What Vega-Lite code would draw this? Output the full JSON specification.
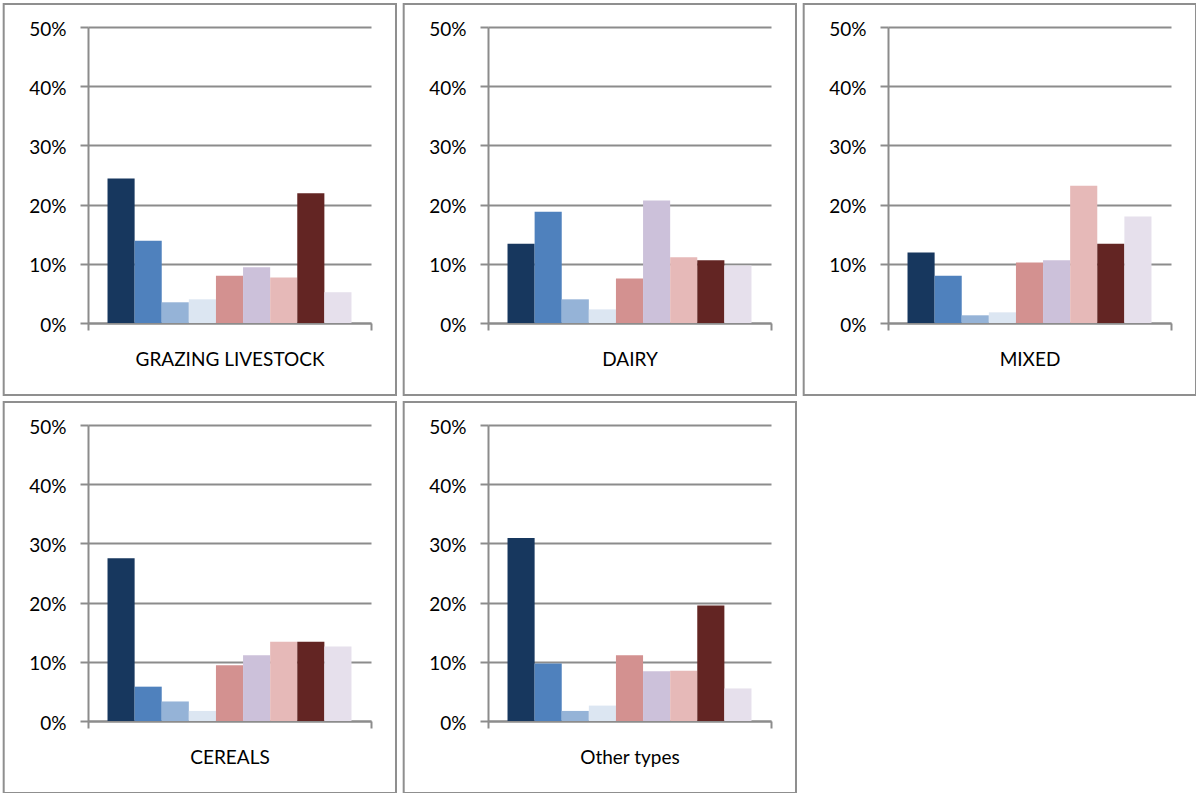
{
  "$schema": "https://vega.github.io/schema/vega-lite/v6.json",
  "padding": {"left": 2, "top": 2, "right": 0, "bottom": 0},
  "background": "white",
  "data": {
    "values": [
      {"type": "GRAZING LIVESTOCK", "series": "Series 1", "value": 0.244},
      {"type": "GRAZING LIVESTOCK", "series": "Series 2", "value": 0.139},
      {"type": "GRAZING LIVESTOCK", "series": "Series 3", "value": 0.035},
      {"type": "GRAZING LIVESTOCK", "series": "Series 4", "value": 0.040},
      {"type": "GRAZING LIVESTOCK", "series": "Series 5", "value": 0.080},
      {"type": "GRAZING LIVESTOCK", "series": "Series 6", "value": 0.094},
      {"type": "GRAZING LIVESTOCK", "series": "Series 7", "value": 0.077},
      {"type": "GRAZING LIVESTOCK", "series": "Series 8", "value": 0.219},
      {"type": "GRAZING LIVESTOCK", "series": "Series 9", "value": 0.052},
      {"type": "DAIRY", "series": "Series 1", "value": 0.134},
      {"type": "DAIRY", "series": "Series 2", "value": 0.188},
      {"type": "DAIRY", "series": "Series 3", "value": 0.040},
      {"type": "DAIRY", "series": "Series 4", "value": 0.023},
      {"type": "DAIRY", "series": "Series 5", "value": 0.075},
      {"type": "DAIRY", "series": "Series 6", "value": 0.207},
      {"type": "DAIRY", "series": "Series 7", "value": 0.111},
      {"type": "DAIRY", "series": "Series 8", "value": 0.106},
      {"type": "DAIRY", "series": "Series 9", "value": 0.097},
      {"type": "MIXED", "series": "Series 1", "value": 0.119},
      {"type": "MIXED", "series": "Series 2", "value": 0.080},
      {"type": "MIXED", "series": "Series 3", "value": 0.013},
      {"type": "MIXED", "series": "Series 4", "value": 0.018},
      {"type": "MIXED", "series": "Series 5", "value": 0.102},
      {"type": "MIXED", "series": "Series 6", "value": 0.106},
      {"type": "MIXED", "series": "Series 7", "value": 0.232},
      {"type": "MIXED", "series": "Series 8", "value": 0.134},
      {"type": "MIXED", "series": "Series 9", "value": 0.180},
      {"type": "CEREALS", "series": "Series 1", "value": 0.275},
      {"type": "CEREALS", "series": "Series 2", "value": 0.058},
      {"type": "CEREALS", "series": "Series 3", "value": 0.033},
      {"type": "CEREALS", "series": "Series 4", "value": 0.017},
      {"type": "CEREALS", "series": "Series 5", "value": 0.094},
      {"type": "CEREALS", "series": "Series 6", "value": 0.111},
      {"type": "CEREALS", "series": "Series 7", "value": 0.134},
      {"type": "CEREALS", "series": "Series 8", "value": 0.134},
      {"type": "CEREALS", "series": "Series 9", "value": 0.126},
      {"type": "Other types", "series": "Series 1", "value": 0.309},
      {"type": "Other types", "series": "Series 2", "value": 0.097},
      {"type": "Other types", "series": "Series 3", "value": 0.017},
      {"type": "Other types", "series": "Series 4", "value": 0.026},
      {"type": "Other types", "series": "Series 5", "value": 0.111},
      {"type": "Other types", "series": "Series 6", "value": 0.084},
      {"type": "Other types", "series": "Series 7", "value": 0.085},
      {"type": "Other types", "series": "Series 8", "value": 0.195},
      {"type": "Other types", "series": "Series 9", "value": 0.055}
    ]
  },
  "columns": 3,
  "spacing": {"row": 102, "column": 117},
  "bounds": "flush",
  "resolve": {
    "scale": {"x": "independent", "xOffset": "independent", "y": "independent"},
    "axis": {"x": "independent", "y": "independent"}
  },
  "concat": [
    {
      "width": 283, "height": 296,
      "transform": [{"filter": "datum.type == 'GRAZING LIVESTOCK'"}],
      "layer": [
        {
          "mark": {"type": "bar"},
          "encoding": {
            "x": {"field": "type", "type": "nominal", "title": null, "scale": {"type": "band", "paddingInner": 0, "paddingOuter": 0}},
            "xOffset": {"field": "series", "type": "nominal", "scale": {"type": "band", "paddingInner": 0, "paddingOuter": 0.72}},
            "y": {"field": "value", "type": "quantitative", "stack": null, "title": null, "scale": {"domain": [0, 0.5]}, "axis": {"values": [0, 0.1, 0.2, 0.3, 0.4, 0.5], "format": ".0%"}},
            "color": {"field": "series", "type": "nominal", "legend": null, "scale": {"domain": ["Series 1", "Series 2", "Series 3", "Series 4", "Series 5", "Series 6", "Series 7", "Series 8", "Series 9"], "range": ["#17375E", "#4F81BD", "#95B3D7", "#DCE6F2", "#D39190", "#CCC1DA", "#E6B9B8", "#632523", "#E6E0EC"]}}
          }
        },
        {
          "transform": [{"filter": "datum.series == 'Series 1'"}],
          "mark": {"type": "rect", "filled": false, "stroke": "#8f8f8f", "strokeWidth": 2},
          "encoding": {
            "x": {"field": "type", "type": "nominal", "title": null, "bandPosition": -0.2979, "scale": {"type": "band", "paddingInner": 0, "paddingOuter": 0}},
            "x2": {"field": "type", "bandPosition": 1.0883},
            "y": {"datum": 0.5389, "type": "quantitative", "title": null, "scale": {"domain": [0, 0.5]}},
            "y2": {"datum": -0.1216}
          }
        }
      ]
    },
    {
      "width": 283, "height": 296,
      "transform": [{"filter": "datum.type == 'DAIRY'"}],
      "layer": [
        {
          "mark": {"type": "bar"},
          "encoding": {
            "x": {"field": "type", "type": "nominal", "title": null, "scale": {"type": "band", "paddingInner": 0, "paddingOuter": 0}},
            "xOffset": {"field": "series", "type": "nominal", "scale": {"type": "band", "paddingInner": 0, "paddingOuter": 0.72}},
            "y": {"field": "value", "type": "quantitative", "stack": null, "title": null, "scale": {"domain": [0, 0.5]}, "axis": {"values": [0, 0.1, 0.2, 0.3, 0.4, 0.5], "format": ".0%"}},
            "color": {"field": "series", "type": "nominal", "legend": null, "scale": {"domain": ["Series 1", "Series 2", "Series 3", "Series 4", "Series 5", "Series 6", "Series 7", "Series 8", "Series 9"], "range": ["#17375E", "#4F81BD", "#95B3D7", "#DCE6F2", "#D39190", "#CCC1DA", "#E6B9B8", "#632523", "#E6E0EC"]}}
          }
        },
        {
          "transform": [{"filter": "datum.series == 'Series 1'"}],
          "mark": {"type": "rect", "filled": false, "stroke": "#8f8f8f", "strokeWidth": 2},
          "encoding": {
            "x": {"field": "type", "type": "nominal", "title": null, "bandPosition": -0.2979, "scale": {"type": "band", "paddingInner": 0, "paddingOuter": 0}},
            "x2": {"field": "type", "bandPosition": 1.0883},
            "y": {"datum": 0.5389, "type": "quantitative", "title": null, "scale": {"domain": [0, 0.5]}},
            "y2": {"datum": -0.1216}
          }
        }
      ]
    },
    {
      "width": 283, "height": 296,
      "transform": [{"filter": "datum.type == 'MIXED'"}],
      "layer": [
        {
          "mark": {"type": "bar"},
          "encoding": {
            "x": {"field": "type", "type": "nominal", "title": null, "scale": {"type": "band", "paddingInner": 0, "paddingOuter": 0}},
            "xOffset": {"field": "series", "type": "nominal", "scale": {"type": "band", "paddingInner": 0, "paddingOuter": 0.72}},
            "y": {"field": "value", "type": "quantitative", "stack": null, "title": null, "scale": {"domain": [0, 0.5]}, "axis": {"values": [0, 0.1, 0.2, 0.3, 0.4, 0.5], "format": ".0%"}},
            "color": {"field": "series", "type": "nominal", "legend": null, "scale": {"domain": ["Series 1", "Series 2", "Series 3", "Series 4", "Series 5", "Series 6", "Series 7", "Series 8", "Series 9"], "range": ["#17375E", "#4F81BD", "#95B3D7", "#DCE6F2", "#D39190", "#CCC1DA", "#E6B9B8", "#632523", "#E6E0EC"]}}
          }
        },
        {
          "transform": [{"filter": "datum.series == 'Series 1'"}],
          "mark": {"type": "rect", "filled": false, "stroke": "#8f8f8f", "strokeWidth": 2},
          "encoding": {
            "x": {"field": "type", "type": "nominal", "title": null, "bandPosition": -0.2979, "scale": {"type": "band", "paddingInner": 0, "paddingOuter": 0}},
            "x2": {"field": "type", "bandPosition": 1.0883},
            "y": {"datum": 0.5389, "type": "quantitative", "title": null, "scale": {"domain": [0, 0.5]}},
            "y2": {"datum": -0.1216}
          }
        }
      ]
    },
    {
      "width": 283, "height": 296,
      "transform": [{"filter": "datum.type == 'CEREALS'"}],
      "layer": [
        {
          "mark": {"type": "bar"},
          "encoding": {
            "x": {"field": "type", "type": "nominal", "title": null, "scale": {"type": "band", "paddingInner": 0, "paddingOuter": 0}},
            "xOffset": {"field": "series", "type": "nominal", "scale": {"type": "band", "paddingInner": 0, "paddingOuter": 0.72}},
            "y": {"field": "value", "type": "quantitative", "stack": null, "title": null, "scale": {"domain": [0, 0.5]}, "axis": {"values": [0, 0.1, 0.2, 0.3, 0.4, 0.5], "format": ".0%"}},
            "color": {"field": "series", "type": "nominal", "legend": null, "scale": {"domain": ["Series 1", "Series 2", "Series 3", "Series 4", "Series 5", "Series 6", "Series 7", "Series 8", "Series 9"], "range": ["#17375E", "#4F81BD", "#95B3D7", "#DCE6F2", "#D39190", "#CCC1DA", "#E6B9B8", "#632523", "#E6E0EC"]}}
          }
        },
        {
          "transform": [{"filter": "datum.series == 'Series 1'"}],
          "mark": {"type": "rect", "filled": false, "stroke": "#8f8f8f", "strokeWidth": 2},
          "encoding": {
            "x": {"field": "type", "type": "nominal", "title": null, "bandPosition": -0.2979, "scale": {"type": "band", "paddingInner": 0, "paddingOuter": 0}},
            "x2": {"field": "type", "bandPosition": 1.0883},
            "y": {"datum": 0.5389, "type": "quantitative", "title": null, "scale": {"domain": [0, 0.5]}},
            "y2": {"datum": -0.1216}
          }
        }
      ]
    },
    {
      "width": 283, "height": 296,
      "transform": [{"filter": "datum.type == 'Other types'"}],
      "layer": [
        {
          "mark": {"type": "bar"},
          "encoding": {
            "x": {"field": "type", "type": "nominal", "title": null, "scale": {"type": "band", "paddingInner": 0, "paddingOuter": 0}},
            "xOffset": {"field": "series", "type": "nominal", "scale": {"type": "band", "paddingInner": 0, "paddingOuter": 0.72}},
            "y": {"field": "value", "type": "quantitative", "stack": null, "title": null, "scale": {"domain": [0, 0.5]}, "axis": {"values": [0, 0.1, 0.2, 0.3, 0.4, 0.5], "format": ".0%"}},
            "color": {"field": "series", "type": "nominal", "legend": null, "scale": {"domain": ["Series 1", "Series 2", "Series 3", "Series 4", "Series 5", "Series 6", "Series 7", "Series 8", "Series 9"], "range": ["#17375E", "#4F81BD", "#95B3D7", "#DCE6F2", "#D39190", "#CCC1DA", "#E6B9B8", "#632523", "#E6E0EC"]}}
          }
        },
        {
          "transform": [{"filter": "datum.series == 'Series 1'"}],
          "mark": {"type": "rect", "filled": false, "stroke": "#8f8f8f", "strokeWidth": 2},
          "encoding": {
            "x": {"field": "type", "type": "nominal", "title": null, "bandPosition": -0.2979, "scale": {"type": "band", "paddingInner": 0, "paddingOuter": 0}},
            "x2": {"field": "type", "bandPosition": 1.0883},
            "y": {"datum": 0.5389, "type": "quantitative", "title": null, "scale": {"domain": [0, 0.5]}},
            "y2": {"datum": -0.1216}
          }
        }
      ]
    }
  ],
  "config": {
    "view": {"stroke": null},
    "axis": {
      "labelFont": "Lato",
      "labelFontSize": 19,
      "labelColor": "#000000",
      "labelFontWeight": "normal",
      "domainColor": "#8c8c8c",
      "domainWidth": 2,
      "tickColor": "#8c8c8c",
      "tickWidth": 2
    },
    "axisX": {
      "tickBand": "extent",
      "tickSize": 7,
      "labelAngle": 0,
      "labelPadding": 20.5,
      "labelLimit": 0,
      "grid": false
    },
    "axisY": {
      "grid": true,
      "gridColor": "#8c8c8c",
      "gridWidth": 2,
      "tickSize": 8,
      "labelPadding": 14,
      "labelOffset": 2
    }
  }
}
